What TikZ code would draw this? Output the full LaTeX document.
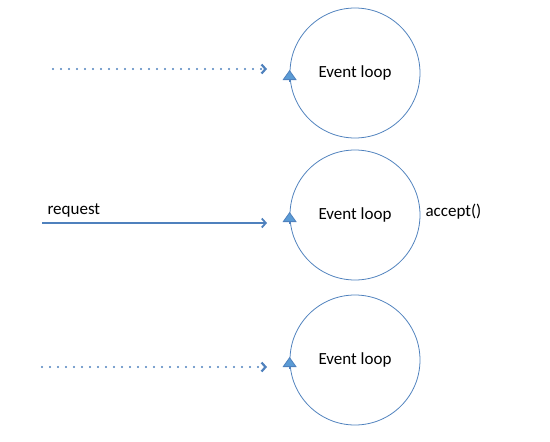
\documentclass[tikz,border=0pt]{standalone}
\usepackage{fontspec}
\setmainfont{Carlito}
\usetikzlibrary{arrows.meta}

\definecolor{linkblue}{RGB}{79,129,189}
\definecolor{tipblue}{RGB}{91,155,213}

\begin{document}
\begin{tikzpicture}[x=1pt, y=-1pt, font=\fontsize{17}{20}\selectfont,
  evloop/.style={circle, draw=linkblue, line width=0.8pt, minimum size=130pt, inner sep=0pt},
  spin/.style={linkblue, line width=0.8pt, -{Triangle[length=10pt, width=14pt, fill=tipblue]}},
  call/.style={linkblue, line width=1.8pt, -{Straight Barb[length=4pt, width=9pt]}},
  idle/.style={call, line width=2.2pt, line cap=round, dash pattern=on 0pt off 8pt}]
  \useasboundingbox (0, 0) rectangle (550, 442);

  \node[evloop] (loopA) at (355, 73)  {Event loop};
  \node[evloop] (loopB) at (355, 215) {Event loop};
  \node[evloop] (loopC) at (355, 360) {Event loop};

  % direction marks on the left of each loop
  \draw[spin] ([yshift=-9pt]loopA.west) -- ([yshift=3pt]loopA.west);
  \draw[spin] ([yshift=-9pt]loopB.west) -- ([yshift=3pt]loopB.west);
  \draw[spin] ([yshift=-9pt]loopC.west) -- ([yshift=3pt]loopC.west);

  \coordinate (inA)  at (53, 69);
  \coordinate (outA) at (267, 69);
  \coordinate (inB)  at (42, 223);
  \coordinate (outB) at (267, 223);
  \coordinate (inC)  at (42, 367);
  \coordinate (outC) at (267, 367);

  \draw[idle] (inA) -- (outA);
  \draw[call] (inB) -- (outB);
  \draw[idle] (inC) -- (outC);

  \node[anchor=west] (req) at (44, 210) {request};
  \node[anchor=west] (acc) at (422, 212) {accept()};
\end{tikzpicture}
\end{document}
